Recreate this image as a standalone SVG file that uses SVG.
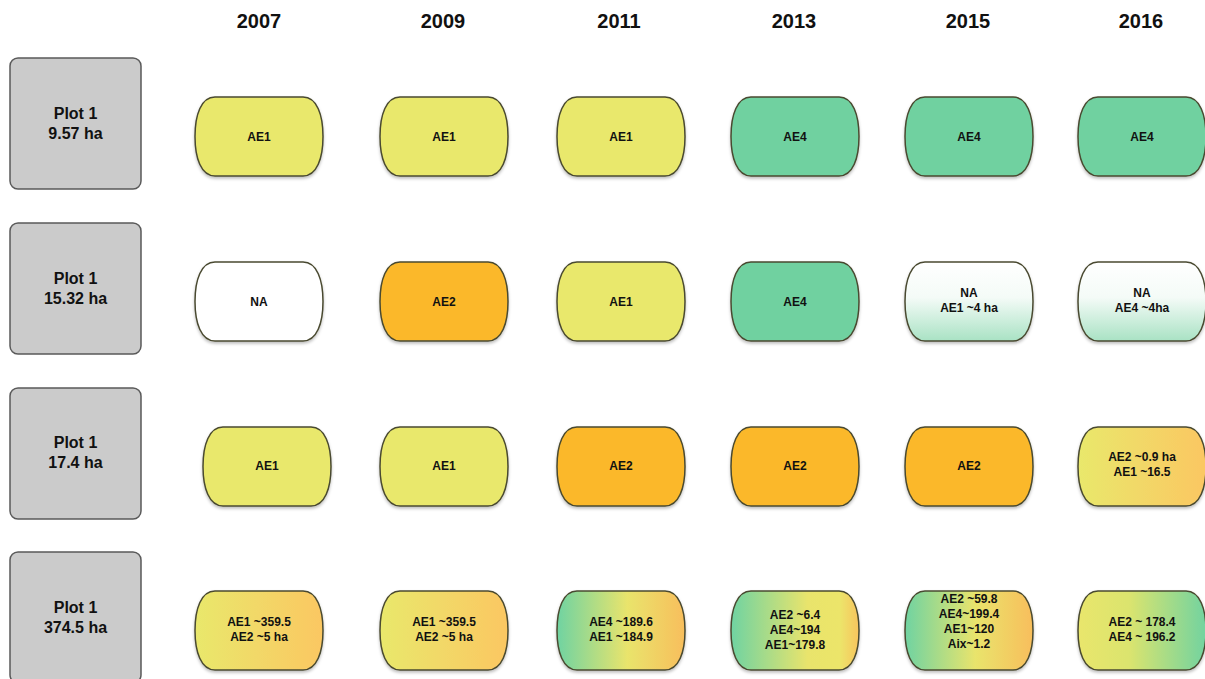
<svg xmlns="http://www.w3.org/2000/svg" xmlns:xlink="http://www.w3.org/1999/xlink" width="1205" height="679" viewBox="0 0 1205 679">
<style>
.yr{font-family:"Liberation Sans",Arial,sans-serif;font-weight:bold;font-size:20px;fill:#111;text-anchor:middle}
.pl{font-family:"Liberation Sans",Arial,sans-serif;font-weight:bold;font-size:16px;fill:#111;text-anchor:middle}
.nt{font-family:"Liberation Sans",Arial,sans-serif;font-weight:bold;font-size:12px;fill:#111;text-anchor:middle}
.plot{fill:#cbcbcb;stroke:#5a5a5a;stroke-width:1.5}
.pill{stroke:#4a4a30;stroke-width:1.5}
.y{fill:#e9e86c}.g{fill:#6fd1a0}.o{fill:#fbb82a}.w{fill:#ffffff}
</style>
<defs>
<filter id="sh" x="-10%" y="-10%" width="120%" height="130%"><feDropShadow dx="0" dy="2" stdDeviation="1.5" flood-color="#000" flood-opacity="0.25"/></filter>
<path id="pill" d="M20,0 H108 C122,0 128,18 128,39.5 C128,61 122,79 108,79 H20 C6,79 0,61 0,39.5 C0,18 6,0 20,0 Z"/>
<linearGradient id="wg" x1="0" y1="0" x2="0" y2="1"><stop offset="0" stop-color="#ffffff"/><stop offset="0.45" stop-color="#f4fbf7"/><stop offset="1" stop-color="#a9e2c4"/></linearGradient>
<linearGradient id="yo" x1="0" y1="0" x2="1" y2="0"><stop offset="0" stop-color="#e9e86c"/><stop offset="1" stop-color="#fbc762"/></linearGradient>
<linearGradient id="gyo" x1="0" y1="0" x2="1" y2="0"><stop offset="0" stop-color="#6fd3a2"/><stop offset="0.55" stop-color="#e9e46c"/><stop offset="1" stop-color="#f8be5c"/></linearGradient>
<linearGradient id="gyo2" x1="0" y1="0" x2="1" y2="0"><stop offset="0" stop-color="#6fd3a2"/><stop offset="0.6" stop-color="#e9e46c"/><stop offset="0.85" stop-color="#ece56a"/><stop offset="1" stop-color="#f8c45e"/></linearGradient>
<linearGradient id="yg" x1="0" y1="0" x2="1" y2="0"><stop offset="0" stop-color="#e9e66c"/><stop offset="0.4" stop-color="#dbe46e"/><stop offset="1" stop-color="#72d3a0"/></linearGradient>
</defs>

<g id="years">
<text class="yr" x="259" y="28">2007</text>
<text class="yr" x="443" y="28">2009</text>
<text class="yr" x="619" y="28">2011</text>
<text class="yr" x="794" y="28">2013</text>
<text class="yr" x="968" y="28">2015</text>
<text class="yr" x="1141" y="28">2016</text>
</g>

<g id="plot-1">
<rect class="plot" x="10" y="58" width="131" height="131" rx="8"/>
<text class="pl" x="75.5" y="119">Plot 1</text>
<text class="pl" x="75.5" y="139">9.57 ha</text>
</g>
<g id="plot-2">
<rect class="plot" x="10" y="223" width="131" height="131" rx="8"/>
<text class="pl" x="75.5" y="284">Plot 1</text>
<text class="pl" x="75.5" y="304">15.32 ha</text>
</g>
<g id="plot-3">
<rect class="plot" x="10" y="388" width="131" height="131" rx="8"/>
<text class="pl" x="75.5" y="448">Plot 1</text>
<text class="pl" x="75.5" y="468">17.4 ha</text>
</g>
<g id="plot-4">
<rect class="plot" x="10" y="552" width="131" height="131" rx="8"/>
<text class="pl" x="75.5" y="613">Plot 1</text>
<text class="pl" x="75.5" y="633">374.5 ha</text>
</g>

<g id="connectors"></g>

<!-- Row 1 -->
<g id="r1-2007"><use href="#pill" x="195" y="97" class="pill y" filter="url(#sh)"/><text class="nt" x="259" y="141">AE1</text></g>
<g id="r1-2009"><use href="#pill" x="380" y="97" class="pill y" filter="url(#sh)"/><text class="nt" x="444" y="141">AE1</text></g>
<g id="r1-2011"><use href="#pill" x="557" y="97" class="pill y" filter="url(#sh)"/><text class="nt" x="621" y="141">AE1</text></g>
<g id="r1-2013"><use href="#pill" x="731" y="97" class="pill g" filter="url(#sh)"/><text class="nt" x="795" y="141">AE4</text></g>
<g id="r1-2015"><use href="#pill" x="905" y="97" class="pill g" filter="url(#sh)"/><text class="nt" x="969" y="141">AE4</text></g>
<g id="r1-2016"><use href="#pill" x="1078" y="97" class="pill g" filter="url(#sh)"/><text class="nt" x="1142" y="141">AE4</text></g>

<!-- Row 2 -->
<g id="r2-2007"><use href="#pill" x="195" y="262" class="pill w" filter="url(#sh)"/><text class="nt" x="259" y="306">NA</text></g>
<g id="r2-2009"><use href="#pill" x="380" y="262" class="pill o" filter="url(#sh)"/><text class="nt" x="444" y="306">AE2</text></g>
<g id="r2-2011"><use href="#pill" x="557" y="262" class="pill y" filter="url(#sh)"/><text class="nt" x="621" y="306">AE1</text></g>
<g id="r2-2013"><use href="#pill" x="731" y="262" class="pill g" filter="url(#sh)"/><text class="nt" x="795" y="306">AE4</text></g>
<g id="r2-2015"><use href="#pill" x="905" y="262" class="pill" fill="url(#wg)" filter="url(#sh)"/><text class="nt" x="969" y="297">NA</text><text class="nt" x="969" y="312">AE1 ~4 ha</text></g>
<g id="r2-2016"><use href="#pill" x="1078" y="262" class="pill" fill="url(#wg)" filter="url(#sh)"/><text class="nt" x="1142" y="297">NA</text><text class="nt" x="1142" y="312">AE4 ~4ha</text></g>

<!-- Row 3 -->
<g id="r3-2007"><use href="#pill" x="203" y="427" class="pill y" filter="url(#sh)"/><text class="nt" x="267" y="470">AE1</text></g>
<g id="r3-2009"><use href="#pill" x="380" y="427" class="pill y" filter="url(#sh)"/><text class="nt" x="444" y="470">AE1</text></g>
<g id="r3-2011"><use href="#pill" x="557" y="427" class="pill o" filter="url(#sh)"/><text class="nt" x="621" y="470">AE2</text></g>
<g id="r3-2013"><use href="#pill" x="731" y="427" class="pill o" filter="url(#sh)"/><text class="nt" x="795" y="470">AE2</text></g>
<g id="r3-2015"><use href="#pill" x="905" y="427" class="pill o" filter="url(#sh)"/><text class="nt" x="969" y="470">AE2</text></g>
<g id="r3-2016"><use href="#pill" x="1078" y="427" class="pill" fill="url(#yo)" filter="url(#sh)"/><text class="nt" x="1142" y="461">AE2 ~0.9 ha</text><text class="nt" x="1142" y="476">AE1 ~16.5</text></g>

<!-- Row 4 -->
<g id="r4-2007"><use href="#pill" x="195" y="591" class="pill" fill="url(#yo)" filter="url(#sh)"/><text class="nt" x="259" y="626">AE1 ~359.5</text><text class="nt" x="259" y="641">AE2 ~5 ha</text></g>
<g id="r4-2009"><use href="#pill" x="380" y="591" class="pill" fill="url(#yo)" filter="url(#sh)"/><text class="nt" x="444" y="626">AE1 ~359.5</text><text class="nt" x="444" y="641">AE2 ~5 ha</text></g>
<g id="r4-2011"><use href="#pill" x="557" y="591" class="pill" fill="url(#gyo)" filter="url(#sh)"/><text class="nt" x="621" y="626">AE4 ~189.6</text><text class="nt" x="621" y="641">AE1 ~184.9</text></g>
<g id="r4-2013"><use href="#pill" x="731" y="591" class="pill" fill="url(#gyo2)" filter="url(#sh)"/><text class="nt" x="795" y="619">AE2 ~6.4</text><text class="nt" x="795" y="634">AE4~194</text><text class="nt" x="795" y="649">AE1~179.8</text></g>
<g id="r4-2015"><use href="#pill" x="905" y="591" class="pill" fill="url(#gyo)" filter="url(#sh)"/><text class="nt" x="969" y="603">AE2 ~59.8</text><text class="nt" x="969" y="618">AE4~199.4</text><text class="nt" x="969" y="633">AE1~120</text><text class="nt" x="969" y="648">Aix~1.2</text></g>
<g id="r4-2016"><use href="#pill" x="1078" y="591" class="pill" fill="url(#yg)" filter="url(#sh)"/><text class="nt" x="1142" y="626">AE2 ~ 178.4</text><text class="nt" x="1142" y="641">AE4 ~ 196.2</text></g>
</svg>
